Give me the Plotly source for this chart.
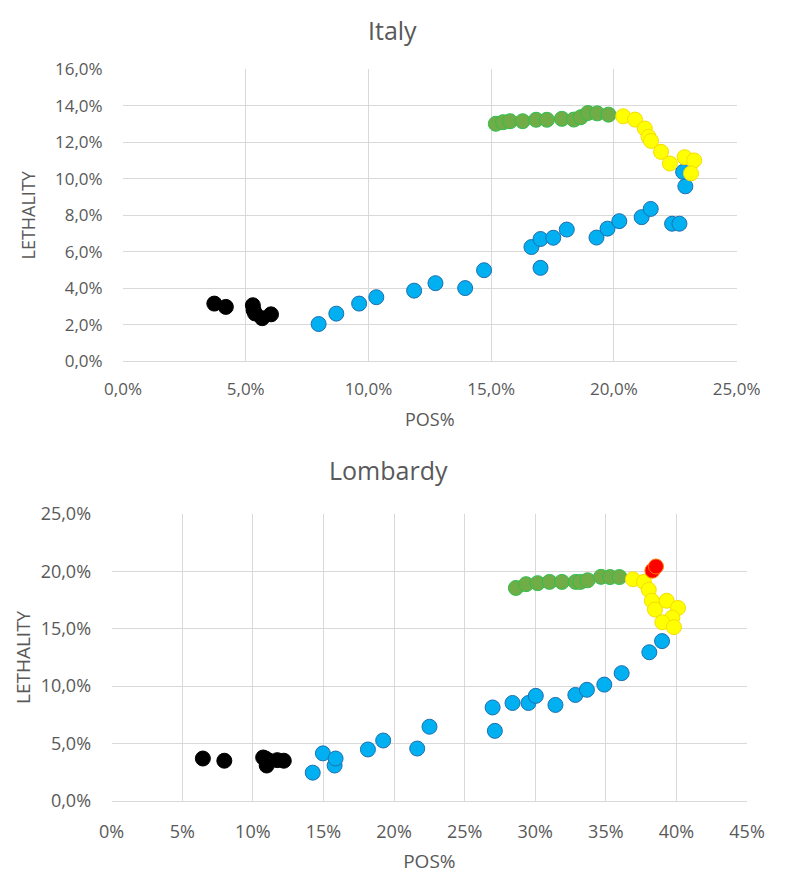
import plotly.graph_objects as go

# ---- Italy (POS %, LETHALITY %) ----
it_black_x = [3.72, 4.19, 5.29, 5.32, 5.38, 5.67, 6.03]
it_black_y = [3.16, 2.98, 3.07, 2.80, 2.62, 2.36, 2.57]

it_blue_x = [7.97, 8.69, 9.62, 10.32, 11.86, 12.73, 13.94, 14.71, 16.64, 17.01, 17.01, 17.53, 18.08,
             19.29, 19.74, 20.22, 21.13, 21.50, 22.37, 22.67, 22.82, 22.91]
it_blue_y = [2.04, 2.61, 3.16, 3.51, 3.87, 4.28, 4.01, 4.99, 6.26, 5.12, 6.70, 6.77, 7.22,
             6.78, 7.27, 7.68, 7.90, 8.35, 7.54, 7.54, 10.38, 9.59]

it_green_x = [15.19, 15.49, 15.77, 16.28, 16.83, 17.27, 17.88, 18.37, 18.65, 18.94, 19.32, 19.78]
it_green_y = [13.02, 13.11, 13.16, 13.16, 13.24, 13.24, 13.29, 13.25, 13.38, 13.61, 13.59, 13.52]

it_yellow_x = [20.38, 20.86, 21.26, 21.41, 21.51, 21.92, 22.28, 22.88, 23.27, 23.14]
it_yellow_y = [13.43, 13.25, 12.76, 12.31, 12.08, 11.48, 10.84, 11.19, 11.01, 10.30]

# ---- Lombardy ----
lo_black_x = [6.46, 7.98, 10.73, 10.90, 10.98, 11.16, 11.73, 12.19]
lo_black_y = [3.69, 3.50, 3.78, 3.69, 3.08, 3.50, 3.55, 3.50]

lo_blue_x = [14.24, 14.96, 15.79, 15.86, 18.15, 19.23, 21.64, 22.51, 26.98, 27.14, 28.39, 29.52,
             30.04, 31.43, 32.84, 33.66, 34.89, 36.12, 38.08, 38.98]
lo_blue_y = [2.46, 4.14, 3.08, 3.69, 4.48, 5.26, 4.56, 6.46, 8.14, 6.10, 8.53, 8.53,
             9.15, 8.36, 9.23, 9.68, 10.13, 11.13, 12.95, 13.92]

lo_green_x = [28.63, 29.35, 30.17, 31.01, 31.89, 32.86, 33.20, 33.71, 34.66, 35.30, 35.96]
lo_green_y = [18.55, 18.88, 18.97, 19.08, 19.08, 19.08, 19.08, 19.22, 19.52, 19.50, 19.50]

lo_yellow_x = [36.92, 37.70, 38.04, 38.26, 38.48, 39.31, 40.11, 39.71, 39.00, 39.82]
lo_yellow_y = [19.31, 19.08, 18.39, 17.44, 16.67, 17.44, 16.81, 15.97, 15.56, 15.14]

lo_red_x = [38.30, 38.55]
lo_red_y = [20.06, 20.42]

W, H = 789, 879
GREY = "#595959"
GRID = "#d9d9d9"
FONT = "Open Sans"

styles = {
    "black": dict(color="#000000", line=dict(color="#000000", width=1)),
    "blue": dict(color="#00b0f0", line=dict(color="#1f6fb0", width=1)),
    "green": dict(color="#70ad47", line=dict(color="#2fbf4f", width=1)),
    "yellow": dict(color="#ffff00", line=dict(color="#f5dd00", width=1)),
    "red": dict(color="#ff0000", line=dict(color="#ff7a00", width=1)),
}

fig = go.Figure()


def add(xs, ys, style, xa, ya):
    fig.add_trace(go.Scatter(x=xs, y=ys, mode="markers", xaxis=xa, yaxis=ya,
                             marker=dict(size=15, **styles[style]), showlegend=False))


add(it_black_x, it_black_y, "black", "x", "y")
add(it_blue_x, it_blue_y, "blue", "x", "y")
add(it_green_x, it_green_y, "green", "x", "y")
add(it_yellow_x, it_yellow_y, "yellow", "x", "y")

add(lo_black_x, lo_black_y, "black", "x2", "y2")
add(lo_blue_x, lo_blue_y, "blue", "x2", "y2")
add(lo_green_x, lo_green_y, "green", "x2", "y2")
add(lo_yellow_x, lo_yellow_y, "yellow", "x2", "y2")
add(lo_red_x, lo_red_y, "red", "x2", "y2")


def px_dom(a, b):
    return [a / W, b / W]


def py_dom(top, bottom):
    return [1 - bottom / H, 1 - top / H]


def f(size):
    return dict(family=FONT, size=size, color=GREY)


common = dict(showgrid=True, gridcolor=GRID, gridwidth=1, zeroline=False,
              ticks="outside", tickcolor="rgba(0,0,0,0)")

fig.update_layout(
    width=W, height=H,
    margin=dict(l=0, r=0, t=0, b=0),
    paper_bgcolor="white", plot_bgcolor="white",
    separators=",.",
    font=dict(family=FONT, color=GREY),
    xaxis=dict(domain=px_dom(110, 759), range=[0, 25], dtick=5, tickformat=".1f", ticksuffix="%",
               anchor="y", showline=True, linecolor=GRID, ticklen=12, tickfont=f(17),
               title=dict(text="POS%", font=f(18), standoff=14), **common),
    yaxis=dict(domain=py_dom(58, 358), range=[0, 16], dtick=2, tickformat=".1f", ticksuffix="%",
               anchor="x", ticklen=16, tickfont=f(17),
               title=dict(text="LETHALITY", font=f(18), standoff=14), **common),
    xaxis2=dict(domain=px_dom(98, 770), range=[0, 45], dtick=5, tickformat=".0f", ticksuffix="%",
                anchor="y2", showline=True, linecolor=GRID, ticklen=15, tickfont=f(18),
                title=dict(text="POS%", font=f(19), standoff=12), **common),
    yaxis2=dict(domain=py_dom(515, 810), range=[0, 25], dtick=5, tickformat=".1f", ticksuffix="%",
                anchor="x2", ticklen=16, tickfont=f(18),
                title=dict(text="LETHALITY", font=f(19), standoff=4), **common),
    annotations=[
        dict(text="Italy", x=0.5, y=1 - 17 / H, xref="paper", yref="paper", showarrow=False,
             font=f(25), xanchor="center", yanchor="middle"),
        dict(text="Lombardy", x=0.495, y=1 - 470 / H, xref="paper", yref="paper", showarrow=False,
             font=f(25), xanchor="center", yanchor="middle"),
    ],
)

# drop the default page margin so the figure sits at the window origin
fig.write_html("out.html", config={"displayModeBar": False},
               post_script="document.body.style.margin='0';document.body.style.overflow='hidden';")
